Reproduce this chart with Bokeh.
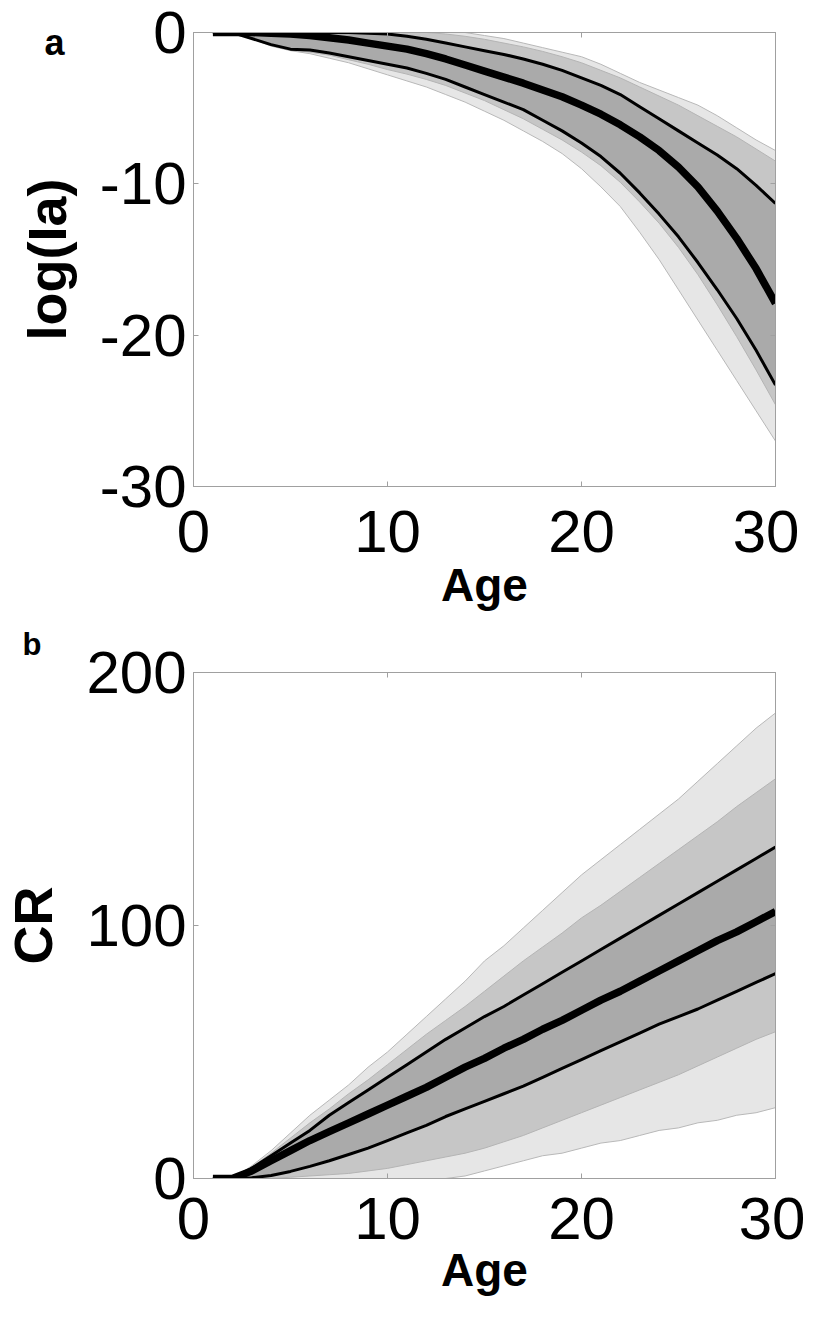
from bokeh.plotting import figure
from bokeh.layouts import column
from bokeh.models import Range1d, FixedTicker, LinearAxis, Title
from bokeh.embed import file_html
from bokeh.resources import INLINE

# ---------------- data ----------------
ages = list(range(1, 31))

# panel a : log(Ia)
a_median = [0, 0, 0, -0.05, -0.1, -0.2, -0.35, -0.5, -0.7, -0.9, -1.1, -1.4, -1.75, -2.15, -2.55,
            -2.95, -3.35, -3.8, -4.25, -4.8, -5.4, -6.1, -6.9, -7.8, -8.9, -10.2, -11.8, -13.6, -15.6, -17.9]
a_upper = [0, 0, 0, 0, 0, 0, 0, 0, -0.05, -0.1, -0.25, -0.45, -0.7, -0.95, -1.2,
           -1.45, -1.75, -2.1, -2.5, -3.0, -3.5, -4.1, -4.9, -5.7, -6.5, -7.3, -8.1, -9.0, -10.1, -11.3]
a_lower = [0, 0, -0.4, -0.8, -1.1, -1.15, -1.35, -1.6, -1.85, -2.1, -2.35, -2.7, -3.1, -3.6, -4.1,
           -4.6, -5.1, -5.8, -6.5, -7.3, -8.2, -9.3, -10.6, -12.0, -13.5, -15.2, -17.0, -18.9, -21.0, -23.3]
a_sim_max = [0, 0, 0, 0, 0, 0, 0, 0, 0, 0, 0, 0, 0, 0, -0.2,
             -0.4, -0.7, -1.0, -1.3, -1.6, -2.1, -2.7, -3.3, -3.8, -4.3, -4.8, -5.5, -6.3, -7.1, -7.8]
a_sim_min = [0, 0, -0.4, -0.9, -1.2, -1.4, -1.7, -2.0, -2.4, -2.8, -3.2, -3.6, -4.1, -4.6, -5.2,
             -5.8, -6.5, -7.2, -8.0, -9.0, -10.2, -11.5, -13.2, -15.0, -17.0, -19.0, -21.0, -23.0, -25.0, -27.0]
a_dense_hi = [0, 0, 0, 0, 0, 0, 0, 0, 0, 0, 0, 0, -0.1, -0.25, -0.45,
              -0.7, -0.95, -1.25, -1.6, -2.0, -2.5, -3.0, -3.6, -4.2, -4.8, -5.5, -6.2, -6.9, -7.7, -8.5]
a_dense_lo = [0, 0, -0.4, -0.85, -1.15, -1.3, -1.5, -1.8, -2.1, -2.45, -2.75, -3.1, -3.5, -4.0, -4.5,
              -5.1, -5.7, -6.4, -7.1, -7.9, -8.8, -9.9, -11.2, -12.6, -14.2, -16.0, -18.0, -20.1, -22.3, -24.6]

# panel b : CR
b_median = [0, 0, 3, 7, 11, 15, 18.5, 22, 25.5, 29, 32.5, 36, 40, 44, 47.5,
            51.5, 55, 59, 62.5, 66.5, 70.5, 74, 78, 82, 86, 90, 94, 97.5, 101.5, 105.5]
b_upper = [0, 0, 4, 9, 14, 19, 25, 30, 35, 40, 45, 50, 55, 59.5, 64,
           68, 72.5, 77, 81.5, 86, 90.5, 95, 99.5, 104, 108.5, 113, 117.5, 122, 126.5, 131]
b_lower = [0, 0, 0.3, 1.2, 2.8, 4.8, 7, 9.5, 12, 15, 18, 21, 24.5, 27.5, 30.5,
           33.5, 36.5, 40, 43.5, 47, 50.5, 54, 57.5, 61, 64, 67, 70.5, 74, 77.5, 81]
b_sim_max = [0, 0, 5, 11, 18, 25, 31, 37, 44, 50, 57, 64, 71, 78, 86,
             92, 99, 106, 113, 120, 126, 132, 138, 144, 150, 157, 164, 171, 178, 184]
b_sim_min = [0, 0, 0, 0, 0, 0, 0, 0, 0, 0, 0, 0, 0, 1, 3,
             5, 7, 9, 10, 12, 14, 15, 17, 19, 20, 22, 23, 25, 26, 28]
b_dense_hi = [0, 0, 4.5, 10, 16, 22, 27.5, 33.5, 39, 45, 51, 57, 62.5, 68, 74,
              80, 86, 91.5, 97, 103, 108, 113.5, 119, 124.5, 130, 135.5, 141, 147, 152.5, 158]
b_dense_lo = [0, 0, 0, 0, 0.5, 1, 1.5, 2, 3, 4, 5.5, 7, 8.5, 10, 12,
              14.5, 17, 20, 23, 26, 29, 32, 35, 38, 41, 44.5, 48, 51.5, 55, 58]

x_ticks = [0, 10, 20, 30]
a_ticks = [0, -10, -20, -30]
a_tick_labels = ["0", "-10", "-20", "-30"]
b_ticks = [0, 100, 200]

FONT = "Liberation Sans"
AXC = "#a0a0a0"


def style(p, xt, yt, xlabel, ylabel, ystand, xstand, xlstand, ylabels=None):
    p.xgrid.visible = False
    p.ygrid.visible = False
    p.outline_line_color = AXC
    p.background_fill_color = "white"
    p.border_fill_color = "white"
    p.xaxis.axis_label = xlabel
    p.yaxis.axis_label = ylabel
    p.xaxis.ticker = FixedTicker(ticks=xt)
    p.yaxis.ticker = FixedTicker(ticks=yt)
    if ylabels is not None:
        p.yaxis.major_label_overrides = {t: s for t, s in zip(yt, ylabels)}
    for ax in [p.xaxis[0], p.yaxis[0]]:
        ax.axis_line_color = AXC
        ax.major_tick_line_color = AXC
        ax.major_tick_in = 5
        ax.major_tick_out = 0
        ax.minor_tick_line_color = None
        ax.major_label_text_font = FONT
        ax.major_label_text_font_size = "60px"
        ax.major_label_text_color = "black"
        ax.axis_label_text_font = FONT
        ax.axis_label_text_font_style = "bold"
        ax.axis_label_text_color = "black"
    p.xaxis.major_label_standoff = xstand
    p.yaxis.major_label_standoff = 7
    p.xaxis.axis_label_standoff = xlstand
    p.yaxis.axis_label_standoff = ystand
    p.xaxis.axis_label_text_font_size = "46px"
    p.yaxis.axis_label_text_font_size = "54px"
    for loc, t in [("above", xt), ("right", yt)]:
        ax = LinearAxis(ticker=FixedTicker(ticks=t), axis_line_color=AXC,
                        major_tick_line_color=AXC, major_tick_in=5, major_tick_out=0,
                        minor_tick_line_color=None, major_label_text_font_size="1px",
                        major_label_text_color=None, major_label_standoff=0)
        p.add_layout(ax, loc)


def draw(p, mx, mn, dhi, dlo, up, lo, med):
    p.varea(x=ages, y1=mn, y2=mx, fill_color="#e6e6e6")
    p.varea(x=ages, y1=dlo, y2=dhi, fill_color="#c6c6c6")
    p.varea(x=ages, y1=lo, y2=up, fill_color="#aaaaaa")
    for arr in (mx, mn):
        p.line(ages, arr, line_color="#b8b8b8", line_width=1)
    for arr in (dhi, dlo):
        p.line(ages, arr, line_color="#b4b4b4", line_width=1)
    p.line(ages, up, line_color="black", line_width=3)
    p.line(ages, lo, line_color="black", line_width=3)
    p.line(ages, med, line_color="black", line_width=7.5)


# ---------------- panel a ----------------
p1 = figure(frame_width=582, frame_height=454, min_border_left=187, min_border_right=30,
            min_border_top=32, min_border_bottom=131,
            x_range=Range1d(0, 30), y_range=Range1d(-30, 0),
            output_backend="svg", toolbar_location=None)
style(p1, x_ticks, a_ticks, "Age", "log(Ia)", 20, 24, 4, a_tick_labels)
draw(p1, a_sim_max, a_sim_min, a_dense_hi, a_dense_lo, a_upper, a_lower, a_median)
# panel letter (leading empty line lets it sit level with the top of the frame)
p1.add_layout(Title(text="\na", align="left", offset=-149, text_font=FONT, text_font_style="bold",
                    text_font_size="36px", text_color="black", standoff=-60,
                    vertical_align="bottom"), "above")

# ---------------- panel b ----------------
p2 = figure(frame_width=582, frame_height=506, min_border_left=187, min_border_right=30,
            min_border_top=55, min_border_bottom=100,
            x_range=Range1d(0, 30), y_range=Range1d(0, 200),
            output_backend="svg", toolbar_location=None)
style(p2, x_ticks, b_ticks, "Age", "CR", 20, 19, 2)
draw(p2, b_sim_max, b_sim_min, b_dense_hi, b_dense_lo, b_upper, b_lower, b_median)
p2.add_layout(Title(text="b", align="left", offset=-171, text_font=FONT, text_font_style="bold",
                    text_font_size="31px", text_color="black", standoff=18,
                    vertical_align="top"), "above")

layout = column(p1, p2)
open("out.html", "w").write(file_html(layout, INLINE))
